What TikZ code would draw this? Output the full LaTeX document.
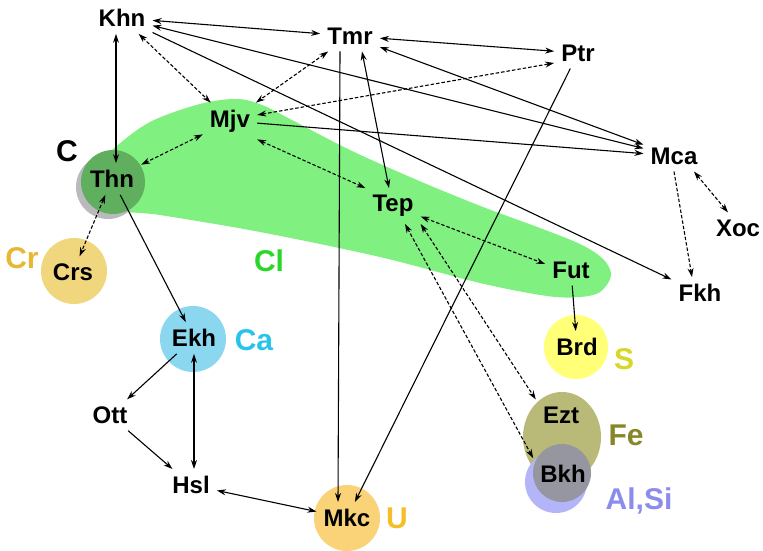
\documentclass[tikz,border=0pt]{standalone}
\usepackage{fontspec}
\setmainfont{Liberation Sans}
\usetikzlibrary{arrows.meta}
\definecolor{blobgreen}{RGB}{128,240,128}
\definecolor{thngreen}{RGB}{95,175,95}
\definecolor{thngrey}{RGB}{185,185,190}
\definecolor{crsyel}{RGB}{240,215,125}
\definecolor{ekhblue}{RGB}{140,215,240}
\definecolor{brdyel}{RGB}{255,255,120}
\definecolor{eztolive}{RGB}{185,185,120}
\definecolor{bkhgrey}{RGB}{150,150,160}
\definecolor{bkhblue}{RGB}{180,180,248}
\definecolor{mkcorange}{RGB}{250,210,120}
\definecolor{crcol}{RGB}{230,185,50}
\definecolor{clcol}{RGB}{40,215,40}
\definecolor{cacol}{RGB}{40,195,235}
\definecolor{scol}{RGB}{215,215,40}
\definecolor{fecol}{RGB}{135,135,40}
\definecolor{alcol}{RGB}{140,140,235}
\definecolor{ucol}{RGB}{245,190,40}
\begin{document}
\begin{tikzpicture}[x=1pt,y=-1pt,
  >={Stealth[length=9pt,width=6pt]},
  lbl/.style={font=\bfseries\fontsize{24}{24}\selectfont, inner sep=7pt},
  grp/.style={font=\bfseries\fontsize{30}{30}\selectfont, inner sep=0pt},
  con/.style={line width=1.1pt,->},
  bicon/.style={line width=1.1pt,<->},
  dsh/.style={dash pattern=on 3.5pt off 2pt}]
\useasboundingbox (0,0) rectangle (763,551);
% green region Cl
\fill[blobgreen] plot[smooth cycle, tension=0.55] coordinates {
 (88,175) (112,150) (150,122) (200,104) (237,99) (262,105) (290,119)
 (350,150) (417,180) (483,207) (540,228) (582,245) (604,260) (611,276)
 (600,292) (580,297) (547,296) (480,283) (380,257) (260,232) (160,215) (110,208)};
% blobs
\fill[thngrey] (108,187) circle[radius=32pt];
\fill[thngreen] (113,182) circle[radius=32pt];
\fill[crsyel] (74,271) circle[radius=33pt];
\fill[ekhblue] (193,339) circle[radius=33pt];
\fill[brdyel] (576,347) circle[radius=32pt];
\fill[eztolive] (562,437) ellipse[x radius=39pt, y radius=45pt];
\fill[bkhblue] (556,482) circle[radius=31pt];
\fill[bkhgrey] (562,473) circle[radius=29pt];
\fill[mkcorange] (347,518) circle[radius=33pt];
% nodes
\node[lbl] (Khn) at (122,18) {Khn};
\node[lbl] (Tmr) at (350,36) {Tmr};
\node[lbl] (Ptr) at (578,53) {Ptr};
\node[lbl] (Mjv) at (230,121) {Mjv};
\node[lbl] (Mca) at (674,156) {Mca};
\node[lbl] (Thn) at (112,179) {Thn};
\node[lbl] (Tep) at (393,206) {Tep};
\node[lbl] (Xoc) at (738,228) {Xoc};
\node[lbl] (Crs) at (73,272) {Crs};
\node[lbl] (Fut) at (571,270) {Fut};
\node[lbl] (Fkh) at (700,293) {Fkh};
\node[lbl] (Ekh) at (194,338) {Ekh};
\node[lbl] (Brd) at (577,347) {Brd};
\node[lbl] (Ott) at (110,415) {Ott};
\node[lbl] (Ezt) at (561,415) {Ezt};
\node[lbl] (Hsl) at (191,485) {Hsl};
\node[lbl] (Bkh) at (563,474) {Bkh};
\node[lbl] (Mkc) at (347,518) {Mkc};
% group labels
\node[grp] (lC) at (67,151) {C};
\node[grp, text=crcol] (lCr) at (22,258) {Cr};
\node[grp, text=clcol] (lCl) at (269,261) {Cl};
\node[grp, text=cacol] (lCa) at (254,340) {Ca};
\node[grp, text=scol] (lS) at (624,359) {S};
\node[grp, text=fecol] (lFe) at (626,435) {Fe};
\node[grp, text=alcol] (lAl) at (639,501) {Al,Si};
\node[grp, text=ucol] (lU) at (397,518) {U};
% solid connectors
\draw[bicon] (Khn) -- (Tmr);
\draw[bicon] (Khn) -- (Mca);
\draw[con] (Khn) -- (Fkh);
\draw[bicon] ([xshift=-6pt]Khn.south) -- ([xshift=4pt]Thn.north);
\draw[bicon] (Tmr) -- (Ptr);
\draw[bicon] (Tmr) -- (Mca);
\draw[bicon] ([xshift=12pt]Tmr.south) -- ([xshift=-4pt]Tep.north);
\draw[con] ([xshift=-10pt]Tmr.south) -- ([xshift=-9pt]Mkc.north);
\draw[con] (Ptr) -- (Mkc);
\draw[con] (Mjv) -- (Mca);
\draw[con] (Fut) -- (Brd);
\draw[con] (Thn) -- (Ekh);
\draw[con] (Ekh) -- (Ott);
\draw[bicon] (Ekh.south) -- (Ekh.south |- Hsl.north);
\draw[con] (Ott) -- (Hsl);
\draw[bicon] (Hsl) -- (Mkc);
% dashed connectors
\draw[bicon,dsh] (Khn) -- (Mjv);
\draw[bicon,dsh] (Tmr) -- (Mjv);
\draw[bicon,dsh] ([yshift=6pt]Mjv.east) -- ([yshift=-10pt]Ptr.west);
\draw[bicon,dsh] (Mjv) -- (Thn);
\draw[bicon,dsh] (Mjv.south east) -- (Tep.north west);
\draw[bicon,dsh] (Tep) -- ([yshift=6pt]Fut.west);
\draw[bicon,dsh] (Tep.south east) -- (Ezt.north west);
\draw[bicon,dsh] ([xshift=12pt]Tep.south) -- (Bkh.north west);
\draw[bicon,dsh] ([xshift=20pt]Mca.south) -- ([xshift=-10pt]Xoc.north);
\draw[con,dsh] (Mca.south) -- ([xshift=-8pt]Fkh.north);
\draw[bicon,dsh] (Thn) -- (Crs);
\end{tikzpicture}
\end{document}
